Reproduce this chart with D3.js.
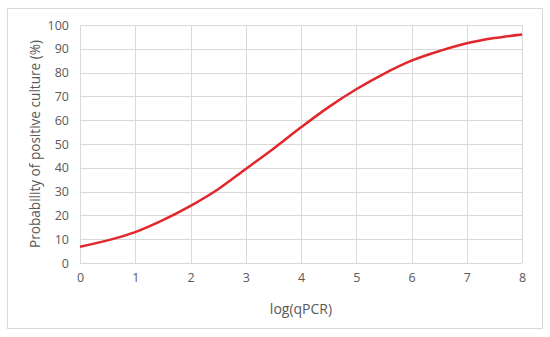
<!DOCTYPE html>
<html>
<head>
<meta charset="utf-8">
<script src="https://cdn.jsdelivr.net/npm/d3@7"></script>
<style>
  body { margin: 0; background: #fff; }
  text { font-family: "Open Sans", "Liberation Sans", sans-serif; fill: #595959; }
</style>
</head>
<body>
<svg id="chart" width="550" height="337"></svg>
<script>
// data
const logQ = [0, 0.5, 1, 1.5, 2, 2.5, 3, 3.5, 4, 4.5, 5, 5.5, 6, 6.5, 7, 7.5, 8];
const probability = [6.8, 9.5, 13, 18, 24, 31, 39.5, 48, 57, 65.5, 73, 79.5, 85, 89, 92.3, 94.5, 96];
const xTicks = [0, 1, 2, 3, 4, 5, 6, 7, 8];
const yTicks = [0, 10, 20, 30, 40, 50, 60, 70, 80, 90, 100];

const margin = { left: 80, top: 25, right: 28, bottom: 74 };
const width = 550, height = 337;

const svg = d3.select('#chart');

// outer frame
svg.append('rect')
  .attr('x', 7.5).attr('y', 8.5)
  .attr('width', 535).attr('height', 320)
  .attr('fill', '#fff')
  .attr('stroke', '#d9d9d9');

let x = d3.scaleLinear().domain([0, 8]).range([margin.left, width - margin.right]);
let y = d3.scaleLinear().domain([0, 100]).range([height - margin.bottom, margin.top]);

// grid
svg.append('g')
  .selectAll('line')
  .data(yTicks)
  .enter().append('line')
    .attr('x1', x(0)).attr('x2', x(8))
    .attr('y1', d => Math.round(y(d)) + 0.5)
    .attr('y2', d => Math.round(y(d)) + 0.5)
    .attr('stroke', '#d9d9d9');

svg.append('g')
  .selectAll('line')
  .data(xTicks)
  .enter().append('line')
    .attr('y1', y(0)).attr('y2', y(100))
    .attr('x1', d => Math.round(x(d)) + 0.5)
    .attr('x2', d => Math.round(x(d)) + 0.5)
    .attr('stroke', '#d9d9d9');

// axes (labels only, Excel style)
let xAxis = d3.axisBottom(x).tickValues(xTicks).tickSize(0).tickPadding(10);
let yAxis = d3.axisLeft(y).tickValues(yTicks).tickSize(0).tickPadding(11);

svg.append('g')
  .attr('transform', `translate(0,${y(0)})`)
  .call(xAxis)
  .call(g => g.select('.domain').remove())
  .selectAll('text').attr('font-size', 12.5).style('fill', '#595959')
    .style('font-family', '"Open Sans", sans-serif');

svg.append('g')
  .attr('transform', `translate(${x(0)},0)`)
  .call(yAxis)
  .call(g => g.select('.domain').remove())
  .selectAll('text').attr('font-size', 12.5).style('fill', '#595959')
    .style('font-family', '"Open Sans", sans-serif');

// titles
svg.append('text')
  .attr('x', (x(0) + x(8)) / 2)
  .attr('y', 314)
  .attr('text-anchor', 'middle')
  .attr('font-size', 14)
  .text('log(qPCR)');

svg.append('text')
  .attr('transform', `translate(40,${(y(0) + y(100)) / 2}) rotate(-90)`)
  .attr('text-anchor', 'middle')
  .attr('font-size', 13.6)
  .text('Probability of positive culture (%)');

// curve
let line = d3.line()
  .x((d, i) => x(logQ[i]))
  .y(d => y(d))
  .curve(d3.curveCatmullRom);

svg.append('path')
  .datum(probability)
  .attr('d', line)
  .attr('fill', 'none')
  .attr('stroke', '#e3262b')
  .attr('stroke-width', 2.5);
</script>
</body>
</html>
